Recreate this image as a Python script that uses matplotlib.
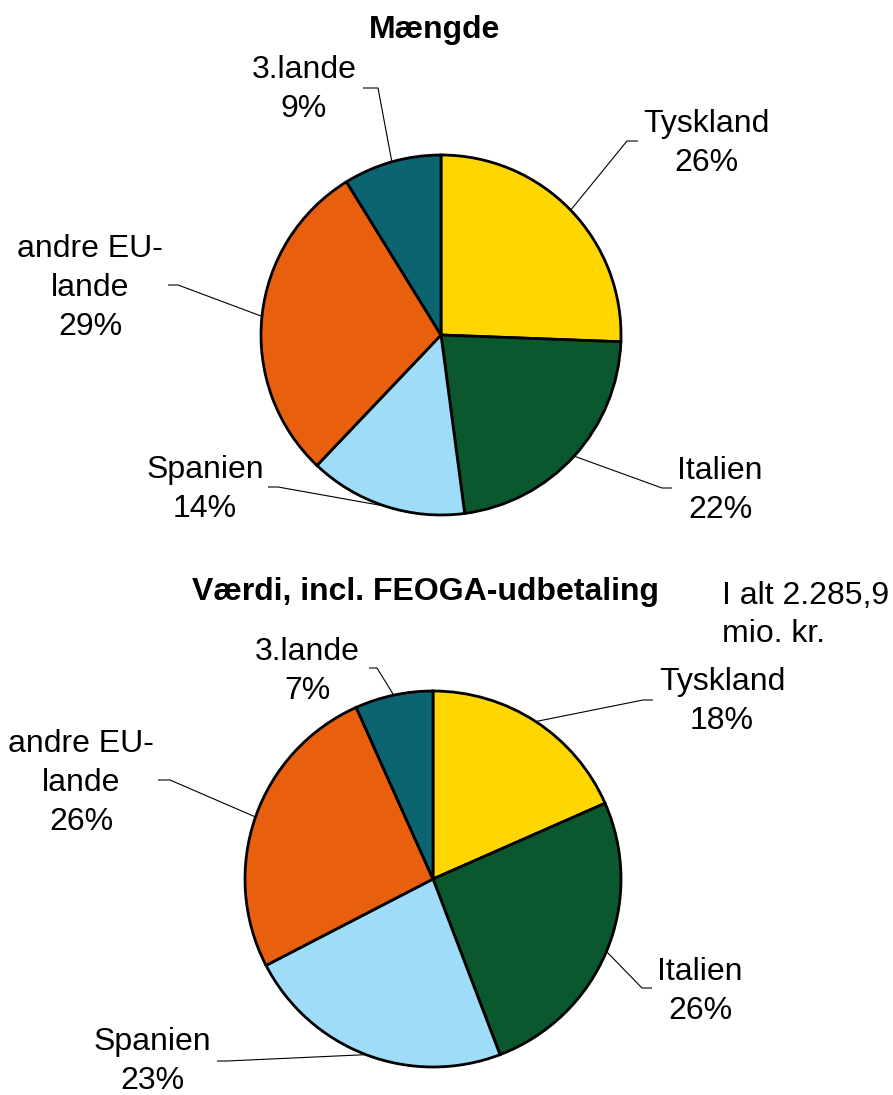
import numpy as np
import matplotlib
matplotlib.use('Agg')
import matplotlib.pyplot as plt

W, H = 893, 1095

# ---- data ----
categories = ['Tyskland', 'Italien', 'Spanien', 'andre EU-\nlande', '3.lande']
maengde = [25.6, 22.3, 14.2, 29.1, 8.8]
vaerdi = [18.4, 25.8, 23.2, 25.9, 6.7]
colors = ['#FFD700', '#0B572E', '#9FDCF8', '#E8600E', '#0B6470']
title_top = 'Mængde'
title_bottom = 'Værdi, incl. FEOGA-udbetaling'
total_note = ['I alt 2.285,9', 'mio. kr.']

plt.rcParams['font.family'] = ['Liberation Sans', 'DejaVu Sans']
FS = 23
LINE = 39

fig = plt.figure(figsize=(W / 100, H / 100), dpi=100)
ax = fig.add_axes([0, 0, 1, 1])


def Y(y):
    return H - y


def draw_pie(values, cx, cy, r, label_pos, elbows):
    wedges, _ = ax.pie(values, colors=colors, startangle=90, counterclock=False,
                       center=(cx, Y(cy)), radius=r,
                       wedgeprops=dict(edgecolor='black', linewidth=2.0))
    total = sum(values)
    for w, cat, v, (lx, lbase), (ex, ey, hx) in zip(wedges, categories, values,
                                                    label_pos, elbows):
        mid = np.deg2rad((w.theta1 + w.theta2) / 2)
        px = cx + r * np.cos(mid)
        py = Y(cy) + r * np.sin(mid)
        ax.plot([px, ex, hx], [py, Y(ey), Y(ey)], color='black', lw=0.8,
                solid_capstyle='butt')
        lines = cat.split('\n') + [f'{round(v / total * 100):.0f}%']
        for i, line in enumerate(lines):
            ax.text(lx, Y(lbase + i * LINE), line, ha='center', va='baseline',
                    fontsize=FS)


# top pie
draw_pie(maengde, 441, 335, 180,
         label_pos=[(706, 132), (720, 479), (205, 478), (90, 257), (304, 78)],
         elbows=[(627, 141, 638), (662, 488, 672), (278, 487, 268),
                 (178, 285, 168), (378, 88, 363)])
ax.text(435, Y(38), title_top, ha='center', va='baseline', fontsize=FS,
        fontweight='bold')

# bottom pie
draw_pie(vaerdi, 433, 879, 188,
         label_pos=[(722, 690), (700, 980), (152, 1050), (81, 752), (307, 660)],
         elbows=[(643, 700, 653), (642, 988, 652), (227, 1061, 217),
                 (170, 780, 158), (377, 668, 369)])
ax.text(425, Y(600), title_bottom, ha='center', va='baseline', fontsize=FS,
        fontweight='bold')
for i, line in enumerate(total_note):
    ax.text(722, Y(604 + i * 38), line, ha='left', va='baseline', fontsize=FS)

ax.set_xlim(0, W)
ax.set_ylim(0, H)
ax.set_aspect('equal')
ax.axis('off')

fig.savefig('out.png', dpi=100)
